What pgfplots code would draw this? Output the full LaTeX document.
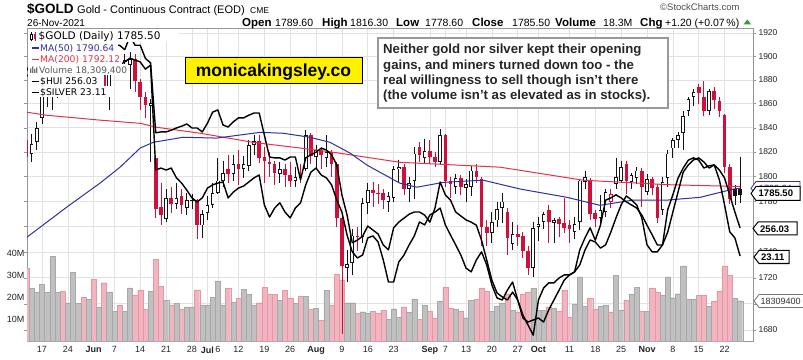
\documentclass[border=0pt]{standalone}
\usepackage{pgfplots}
\pgfplotsset{compat=1.18}
\usepackage{pgfplotstable}
\usepackage{fontspec}
\setmainfont{Liberation Sans}
\newfontfamily\dv{DejaVu Sans}
\definecolor{cred}{RGB}{208,16,58}
\definecolor{cblk}{RGB}{20,20,20}
\definecolor{vpink}{RGB}{242,180,190}
\definecolor{vpinkd}{RGB}{228,152,165}
\definecolor{vgray}{RGB}{192,192,192}
\definecolor{vgrayd}{RGB}{168,168,168}
\definecolor{cmaf}{RGB}{48,48,160}
\definecolor{cmat}{RGB}{228,50,72}
\definecolor{gridc}{RGB}{226,226,226}
\definecolor{framec}{RGB}{150,150,150}
\definecolor{txt}{RGB}{35,35,35}
\definecolor{upg}{RGB}{40,160,60}

\pgfplotstableread{
x o h l c v r
-1 1830 1836 1812 1816 33.3 1
0 1819 1835 1812 1827 24.2 0
1 1828 1845 1822 1840 22.0 0
2 1848 1870 1843 1867 25.8 0
3 1866 1873 1857 1869 22.0 0
4 1869 1891 1855 1871 38.6 0
5 1870 1882 1865 1877 22.0 0
6 1878 1890 1871 1876 22.7 1
7 1877 1886 1873 1882 17.4 0
8 1882 1902 1878 1898 31.1 0
9 1898 1913 1892 1900 17.1 0
10 1900 1905 1884 1896 20.0 1
11 1896 1908 1890 1904 18.9 0
12 1905 1918 1897 1902 28.0 1
13 1903 1916 1898 1908 15.5 0
14 1908 1911 1866 1872 26.5 1
15 1871 1896 1855 1892 22.3 0
16 1891 1904 1884 1899 13.6 0
17 1899 1903 1886 1895 16.4 1
18 1895 1902 1887 1897 13.6 0
19 1893 1904 1872 1898 24.2 0
20 1898 1902 1870 1879 20.9 1
21 1878 1881 1855 1866 23.2 1
22 1866 1870 1848 1859 14.4 1
23 1858 1864 1812 1861 22.7 0
24 1815 1818 1767 1774 37.1 1
25 1776 1795 1761 1769 25.0 1
26 1766 1790 1764 1783 18.5 0
27 1783 1792 1771 1778 16.2 1
28 1778 1795 1774 1783 17.1 0
29 1784 1790 1770 1777 14.4 1
30 1775 1787 1769 1781 15.5 0
31 1781 1786 1774 1781.5 15.5 0
32 1781 1782 1750 1761 23.2 1
33 1761 1773 1751 1770 16.4 0
34 1771 1784 1765 1777 16.4 0
35 1777 1795 1775 1787 20.0 0
36 1787 1815 1786 1797 27.0 0
37 1797 1813 1792 1803 16.4 0
38 1806 1818 1795 1802 23.9 1
39 1802 1818 1797 1810 17.8 0
40 1810 1822 1793 1806 19.4 1
41 1806 1817 1799 1810 23.5 0
42 1809 1830 1805 1826 21.2 0
43 1826 1834 1818 1829 16.4 0
44 1829 1834 1811 1815 17.4 1
45 1816 1824 1795 1813 24.5 1
46 1812 1820 1800 1810 21.2 1
47 1810 1813 1793 1803 21.2 1
48 1802 1812 1795 1806 18.5 0
49 1806 1810 1792 1801 23.0 1
50 1801 1812 1792 1797 19.4 1
51 1797 1808 1792 1800 17.0 0
52 1800 1810 1795 1799 20.2 1
53 1806 1838 1805 1834 20.2 0
54 1834 1836 1810 1817 14.4 1
55 1816 1826 1806 1822 15.0 0
56 1822 1824 1806 1818 9.4 1
57 1815 1834 1808 1820 23.0 0
58 1820 1822 1800 1810 16.1 1
59 1810 1812 1760 1767 30.3 1
60 1767 1768 1677 1729 27.6 1
61 1728 1742 1717 1731 17.4 0
62 1732 1758 1722 1753 17.4 0
63 1753 1760 1741 1752 12.7 1
64 1752 1783 1747 1779 13.3 0
65 1779 1795 1770 1789 12.7 0
66 1789 1796 1776 1787 13.5 1
67 1787 1794 1778 1786 12.7 1
68 1787 1790 1774 1781 14.0 1
69 1780 1788 1772 1784 9.8 0
70 1783 1809 1780 1806 14.7 0
71 1806 1814 1796 1808 10.9 0
72 1808 1810 1785 1790 15.5 1
73 1790 1800 1780 1795 13.0 0
74 1797 1824 1782 1819 19.2 0
75 1824 1828 1812 1818 9.8 1
76 1815 1831 1810 1821 16.4 0
77 1821 1830 1810 1816 13.6 1
78 1816 1820 1808 1812 10.2 1
79 1812 1839 1810 1834 17.9 0
80 1834 1835 1792 1797 24.5 1
81 1797 1800 1783 1794 14.8 1
82 1792 1802 1786 1799 14.4 0
83 1799 1801 1785 1792 13.6 1
84 1791 1798 1780 1794 10.6 0
85 1792 1809 1784 1805 18.6 0
86 1805 1810 1795 1800 19.0 1
87 1798 1800 1745 1760 24.2 1
88 1760 1765 1745 1755 22.7 1
89 1755 1772 1747 1764 13.6 0
90 1765 1780 1760 1774 15.9 0
91 1775 1787 1763 1780 17.0 0
92 1772 1775 1738 1751 21.5 1
93 1746 1764 1742 1754 14.0 0
94 1754 1761 1745 1752 13.2 1
95 1753 1756 1735 1741 21.2 1
96 1741 1745 1722 1728 22.0 1
97 1728 1764 1721 1759 23.9 0
98 1760 1768 1749 1762 14.0 0
99 1764 1772 1758 1770 14.0 0
100 1773 1777 1747 1764 15.6 1
101 1763 1767 1747 1765 14.8 0
102 1766 1768 1752 1762 13.6 1
103 1763 1783 1755 1759 23.0 1
104 1761 1765 1747 1758 10.9 1
105 1756 1768 1750 1762 16.7 0
106 1764 1798 1757 1797 29.1 0
107 1796 1805 1790 1800 15.9 0
108 1797 1799 1765 1770 19.4 1
109 1771 1773 1760 1766 14.4 1
110 1767 1785 1762 1773 15.9 0
111 1772 1790 1768 1788 16.4 0
112 1780 1790 1775 1786 13.2 1
113 1794 1815 1790 1800 30.0 0
114 1797 1813 1795 1808 14.0 0
115 1810 1813 1786 1797 18.5 1
116 1796 1803 1790 1801 21.2 0
117 1799 1808 1794 1805 24.5 0
118 1805 1807 1776 1792 13.6 1
119 1788 1802 1785 1798 13.6 0
120 1798 1800 1785 1791 24.2 1
121 1792 1794 1763 1767 22.0 1
122 1773 1800 1769 1796 20.8 0
123 1799 1822 1792 1819 29.1 0
124 1823 1832 1815 1830 19.7 0
125 1830 1837 1823 1834 21.5 0
126 1836 1854 1822 1850 34.1 0
127 1854 1866 1850 1864 19.0 0
128 1866 1872 1858 1870 19.0 0
129 1874 1877 1860 1869 20.8 1
130 1866 1879 1850 1854 20.8 1
131 1854 1872 1851 1871 15.9 0
132 1871 1874 1856 1863 18.2 1
133 1862 1866 1849 1854 22.7 1
134 1851 1852 1803 1808 34.1 1
135 1808 1810 1778 1782 30.0 1
136 1790 1793 1777 1784.3 19.4 0
137 1789.6 1816.3 1778.6 1785.5 18.3 0
}\gold

\pgfplotstableread{
x y
-0.9 1853.0
3 1850.5
13.2 1846.4
21 1843.8
24.2 1840.5
32.6 1835.6
42.8 1828.2
51.9 1823.3
58.3 1820.0
71.2 1811.8
90.6 1807.8
106.6 1797.2
122.9 1793.5
130 1792.8
137 1792.12
}\matwo

\pgfplotstableread{
x y
-0.9 1751.7
6.8 1775.6
13.2 1794.8
17.1 1807.8
21 1823.3
23.5 1828.2
29.3 1832.3
35.8 1831.5
44.2 1836.4
48.6 1835.6
53.8 1832.3
57.7 1828.2
61.6 1819.2
64.9 1809.4
71.2 1794.8
74.5 1791.6
79.6 1795.6
87.3 1797.2
94.5 1790.0
103.5 1783.5
109.9 1777.1
116.3 1781.1
122.9 1781.1
129.3 1783.5
135.7 1790.0
137 1790.64
}\mafif

\pgfplotstableread{
x y
-1 308.8
0 307.8
1 309.8
2 313.3
3 314.6
4 313.9
5 313.3
6 312.2
7 313.9
8 315.7
9 314.6
10 315.7
11 315.0
12 315.7
13 316.7
14 313.3
15 314.6
16 313.9
17 312.2
18 313.3
19 314.6
20 313.9
21 313.3
22 310.8
23 312.2
24 276.0
25 276.7
26 276.0
27 276.7
28 273.3
29 271.5
30 269.1
31 266.4
32 265.0
33 266.4
34 269.8
35 270.9
36 271.5
37 271.9
38 266.4
39 268.4
40 269.8
41 270.5
42 271.9
43 273.3
44 274.3
45 264.0
46 259.8
47 262.9
48 264.7
49 261.5
50 259.5
51 262.9
52 264.7
53 270.9
54 275.3
55 276.7
56 274.3
57 273.3
58 270.9
59 265.7
60 261.5
61 253.6
62 247.8
63 245.7
64 246.7
65 252.6
66 253.3
67 251.2
68 245.0
69 237.4
70 237.4
71 244.3
72 246.7
73 250.2
74 253.3
75 258.1
76 257.1
77 260.5
78 261.5
79 262.9
80 257.1
81 253.6
82 250.2
83 246.7
84 242.2
85 240.9
86 245.0
87 247.8
88 243.3
89 236.4
90 231.9
91 231.2
92 234.6
93 237.4
94 231.2
95 225.0
96 223.6
97 224.3
98 225.0
99 223.6
100 227.8
101 231.2
102 234.6
103 238.1
104 239.8
105 240.9
106 243.3
107 248.4
108 251.9
109 251.2
110 249.1
111 250.2
112 254.6
113 259.5
114 264.0
115 267.1
116 265.7
117 264.0
118 259.5
119 250.2
120 247.8
121 247.8
122 250.2
123 254.6
124 261.5
125 268.4
126 275.3
127 277.8
128 279.5
129 280.2
130 278.8
131 276.7
132 277.8
133 276.0
134 273.3
135 267.4
136 261.5
137 256.03
}\hui

\pgfplotstableread{
x y
-1 27.4
0 27.2
1 27.4
2 28.1
3 28.2
4 27.9
5 27.8
6 27.5
7 27.9
8 28.0
9 27.6
10 27.9
11 27.8
12 28.0
13 28.0
14 27.4
15 27.8
16 27.9
17 27.9
18 27.8
19 28.1
20 27.9
21 27.9
22 27.6
23 27.5
24 25.91
25 25.93
26 25.93
27 25.97
28 26.02
29 26.06
30 26.11
31 26.02
32 26.02
33 25.93
34 26.13
35 26.38
36 26.43
37 26.09
38 26.04
39 26.16
40 26.25
41 26.25
42 26.31
43 26.36
44 26.36
45 25.86
46 25.36
47 25.34
48 25.34
49 25.29
50 25.36
51 25.36
52 24.84
53 25.34
54 25.41
55 25.47
56 25.56
57 25.52
58 25.41
59 25.18
60 24.50
61 24.04
62 23.41
63 23.47
64 23.56
65 23.79
66 23.70
67 23.61
68 23.36
69 23.25
70 23.75
71 23.88
72 23.97
73 24.06
74 24.11
75 24.11
76 24.04
77 23.88
78 24.20
79 24.79
80 24.50
81 24.38
82 24.11
83 24.02
84 23.93
85 23.88
86 23.81
87 23.47
88 23.02
89 22.56
90 22.27
91 22.18
92 22.11
93 22.29
94 22.11
95 21.77
96 21.54
97 21.31
98 22.11
99 22.38
100 22.50
101 22.50
102 22.61
103 22.68
104 22.68
105 22.75
106 23.25
107 23.52
108 23.75
109 23.47
110 23.81
111 24.38
112 24.43
113 24.50
114 24.43
115 24.34
116 24.27
117 24.20
118 24.04
119 23.81
120 23.59
121 23.36
122 23.36
123 24.16
124 24.50
125 24.88
126 25.11
127 25.29
128 25.34
129 25.29
130 25.11
131 25.16
132 25.18
133 24.84
134 24.27
135 23.66
136 23.52
137 23.11
}\silver

\begin{document}
\begin{tikzpicture}
\useasboundingbox (0,0) rectangle (803pt,359pt);

% price axis uses a logarithmic scale: coordinates are ln(price)
% ---------- axis 1: frame, grid, tick labels ----------
\begin{axis}[scale only axis, width=726pt, height=313pt,
  at={(27pt,18pt)}, anchor=south west, xmin=-0.9, xmax=139.5,
  ymin=7.421596, ymax=7.562317,
  axis line style={draw=framec, line width=0.6pt},
  grid=major, grid style={draw=gridc, line width=0.6pt},
  xtick={2,7,12,16,21,26,31,34,36,40,45,50,55,60,65,70,77,80,84,89,94,98,104,109,114,119,124,129,134},
  xticklabels={17,24,\textbf{Jun},7,14,21,28,\textbf{Jul},6,12,19,26,\textbf{Aug},9,16,23,\textbf{Sep},7,13,20,27,\textbf{Oct},11,18,25,\textbf{Nov},8,15,22},
  ytick={7.426549,7.438384,7.450080,7.461640,7.473069,7.484369,7.495542,7.506592,7.517521,7.528332,7.539027,7.549609,7.560080},
  yticklabels={1680,1700,1720,1740,{},1780,1800,1820,1840,1860,1880,1900,1920},
  yticklabel pos=right,
  xtick style={draw=none},
  ytick style={draw=framec},
  tick align=outside, major tick length=3pt,
  xticklabel style={font=\fontsize{9}{10}\selectfont, text=txt, yshift=1pt},
  yticklabel style={font=\fontsize{8.5}{10}\selectfont, text=txt, xshift=-1pt}]
\end{axis}

% ---------- axis 2: volume ----------
\begin{axis}[scale only axis, width=726pt, height=313pt,
  at={(27pt,18pt)}, anchor=south west, xmin=-0.9, xmax=139.5,
  ymin=0, ymax=142.3,
  axis line style={draw=none},
  xtick=\empty,
  ytick={10,20,30,40}, yticklabels={10M,20M,30M,40M},
  yticklabel pos=left, ytick style={draw=none},
  yticklabel style={font=\fontsize{9}{10}\selectfont, text=txt, xshift=1pt},
  clip=true]
\addplot[ybar, bar width=5.17pt, bar shift=0pt, fill=vpink, draw=vpinkd, line width=0.3pt]
  table[x=x, y expr={\thisrow{r}>0.5 ? \thisrow{v} : nan}] {\gold};
\addplot[ybar, bar width=5.17pt, bar shift=0pt, fill=vgray, draw=vgrayd, line width=0.3pt]
  table[x=x, y expr={\thisrow{r}<0.5 ? \thisrow{v} : nan}] {\gold};
\end{axis}

% ---------- axis 3: candles + moving averages ----------
\begin{axis}[scale only axis, width=726pt, height=313pt,
  at={(27pt,18pt)}, anchor=south west, xmin=-0.9, xmax=139.5,
  ymin=7.421596, ymax=7.562317, hide axis, clip=true]
% wicks
\addplot[draw=none, error bars/.cd, y dir=minus, y explicit, error mark=none,
  error bar style={draw=cred, line width=0.8pt}]
  table[x=x, y expr={\thisrow{r}>0.5 ? ln(\thisrow{h}) : nan},
        y error minus expr={ln(\thisrow{h})-ln(\thisrow{l})}] {\gold};
\addplot[draw=none, error bars/.cd, y dir=minus, y explicit, error mark=none,
  error bar style={draw=cblk, line width=0.8pt}]
  table[x=x, y expr={\thisrow{r}<0.5 ? ln(\thisrow{h}) : nan},
        y error minus expr={ln(\thisrow{h})-ln(\thisrow{l})}] {\gold};
% bodies
\addplot[draw=none, error bars/.cd, y dir=minus, y explicit, error mark=none,
  error bar style={draw=cred, line width=3.6pt}]
  table[x=x, y expr={\thisrow{r}>0.5 ? ln(max(\thisrow{o},\thisrow{c})) : nan},
        y error minus expr={max(abs(ln(\thisrow{o})-ln(\thisrow{c})),0.0005)}] {\gold};
\addplot[draw=none, error bars/.cd, y dir=minus, y explicit, error mark=none,
  error bar style={draw=cblk, line width=3.6pt}]
  table[x=x, y expr={\thisrow{r}<0.5 ? ln(max(\thisrow{o},\thisrow{c})) : nan},
        y error minus expr={max(abs(ln(\thisrow{o})-ln(\thisrow{c})),0.0005)}] {\gold};
% hollow interiors (close above open)
\addplot[draw=none, error bars/.cd, y dir=minus, y explicit, error mark=none,
  error bar style={draw=white, line width=2.0pt}]
  table[x=x, y expr={\thisrow{c}-\thisrow{o}>1.6 ? ln(\thisrow{c})-0.0004 : nan},
        y error minus expr={ln(\thisrow{c})-ln(\thisrow{o})-0.0008}] {\gold};
% moving averages
\addplot[cmat, line width=1pt] table[x=x, y expr={ln(\thisrow{y})}] {\matwo};
\addplot[cmaf, line width=1pt] table[x=x, y expr={ln(\thisrow{y})}] {\mafif};
\end{axis}

% ---------- axis 4: $HUI ----------
\begin{axis}[scale only axis, width=726pt, height=313pt,
  at={(27pt,18pt)}, anchor=south west, xmin=-0.9, xmax=139.5,
  hide axis, ymin=217.06, ymax=324.99, clip=true]
\addplot[black, line width=1.4pt, line join=round] table[x=x, y=y] {\hui};
\end{axis}

% ---------- axis 5: $SILVER ----------
\begin{axis}[scale only axis, width=726pt, height=313pt,
  at={(27pt,18pt)}, anchor=south west, xmin=-0.9, xmax=139.5,
  hide axis, ymin=21.178, ymax=28.292, clip=true]
\addplot[black, line width=1.4pt, line join=round] table[x=x, y=y] {\silver};
\end{axis}

% ---------- overlays in pixel coordinates ----------
\begin{scope}[x=1pt, y=-1pt, yshift=359pt]
% header
\node[anchor=base west, inner sep=0, font=\fontsize{13.5}{14}\selectfont\bfseries] at (27,13.5) {\$GOLD};
\node[anchor=base west, inner sep=0, font=\fontsize{11}{12}\selectfont] at (77,13.5) {Gold - Continuous Contract (EOD)};
\node[anchor=base west, inner sep=0, font=\fontsize{8.5}{10}\selectfont] at (250,13.5) {CME};
\node[anchor=base west, inner sep=0, font=\fontsize{10}{11}\selectfont] at (27,26.5) {26-Nov-2021};
\node[anchor=base west, inner sep=0, font=\fontsize{9.5}{10}\selectfont, text=black!70] at (660,11) {\textcopyright StockCharts.com};
\begin{scope}[every node/.style={anchor=base west, inner sep=0}]
\node[font=\fontsize{11.5}{12}\selectfont\bfseries] at (242,26.5) {Open};
\node[font=\fontsize{10.5}{12}\selectfont] at (275,26.5) {1789.60};
\node[font=\fontsize{11.5}{12}\selectfont\bfseries] at (322,26.5) {High};
\node[font=\fontsize{10.5}{12}\selectfont] at (350,26.5) {1816.30};
\node[font=\fontsize{11.5}{12}\selectfont\bfseries] at (396,26.5) {Low};
\node[font=\fontsize{10.5}{12}\selectfont] at (425,26.5) {1778.60};
\node[font=\fontsize{11.5}{12}\selectfont\bfseries] at (472,26.5) {Close};
\node[font=\fontsize{10.5}{12}\selectfont] at (512,26.5) {1785.50};
\node[font=\fontsize{11.5}{12}\selectfont\bfseries] at (555,26.5) {Volume};
\node[font=\fontsize{10.5}{12}\selectfont] at (603,26.5) {18.3M};
\node[font=\fontsize{11.5}{12}\selectfont\bfseries] at (640,26.5) {Chg};
\node[font=\fontsize{10.5}{12}\selectfont] at (665,26.5) {+1.20 (+0.07\,\%)};
\end{scope}
\fill[upg] (743.5,24.5) -- (751,24.5) -- (747.25,19.5) -- cycle;

% legend
\fill[white] (28,29) rectangle (179,42.5);
\fill[white] (28,42.5) rectangle (118,53.5);
\fill[white] (28,53.5) rectangle (122,64.5);
\fill[white] (28,64.5) rectangle (128,75.5);
\fill[white] (28,75.5) rectangle (104,86.5);
\fill[white] (28,86.5) rectangle (111,97.5);
\draw[black, line width=0.6pt] (31,32) -- (31,41);
\filldraw[fill=white, draw=black, line width=0.5pt] (30,34) rectangle (32.2,39);
\draw[cred, line width=0.6pt] (35,32.5) -- (35,41);
\fill[cred] (34,34.5) rectangle (36.2,39.5);
\node[anchor=base west, inner sep=0, font=\dv\fontsize{10.5}{12}\selectfont] at (38.5,40) {\$GOLD (Daily) 1785.50};
\draw[cmaf, line width=1.8pt] (32,48) -- (38.5,48);
\node[anchor=base west, inner sep=0, font=\dv\fontsize{9.2}{11}\selectfont, text=cmaf] at (40,51.5) {MA(50) 1790.64};
\draw[cmat, line width=1.8pt] (32,59.5) -- (38.5,59.5);
\node[anchor=base west, inner sep=0, font=\dv\fontsize{9.2}{11}\selectfont, text=cmat] at (40,63) {MA(200) 1792.12};
\fill[black!55] (30,73) rectangle (31.4,68.5) (32,73) rectangle (33.4,66.5) (34,73) rectangle (35.4,69) (36,73) rectangle (37.4,67.5);
\node[anchor=base west, inner sep=0, font=\dv\fontsize{9}{11}\selectfont, text=black!65] at (39,74) {Volume 18,309,400};
\draw[black, line width=1.8pt] (32,81.5) -- (38.5,81.5);
\node[anchor=base west, inner sep=0, font=\dv\fontsize{9.2}{11}\selectfont] at (40,85) {\$HUI 256.03};
\draw[black, line width=1.8pt] (32,92.5) -- (38.5,92.5);
\node[anchor=base west, inner sep=0, font=\dv\fontsize{9.2}{11}\selectfont] at (40,96) {\$SILVER 23.11};

% logo
\filldraw[fill=yellow, draw=black, line width=1pt] (185,58) rectangle (362,83.5);
\node[anchor=base, inner sep=0, font=\fontsize{17.5}{18}\selectfont\bfseries] at (273.5,76.5) {monicakingsley.co};

% annotation
\filldraw[fill=white, draw=black!40, line width=1.5pt] (378,38) rectangle (668,108);
\begin{scope}[every node/.style={anchor=base west, inner sep=0, font=\fontsize{13.2}{15}\selectfont\bfseries, text=black!85}]
\node at (383,54) {Neither gold nor silver kept their opening};
\node at (383,69.2) {gains, and miners turned down too - the};
\node at (383,84.4) {real willingness to sell though isn't there};
\node at (383,99.6) {(the volume isn't as elevated as in stocks).};
\end{scope}

% right-hand value tags
\filldraw[fill=white, draw=cmaf, line width=0.8pt] (751,188.3) -- (756,181.5) -- (800,181.5) -- (800,195) -- (756,195) -- cycle;
\node[anchor=base west, inner sep=0, font=\fontsize{9}{10}\selectfont, text=cmaf] at (759,191.5) {1790.64};
\filldraw[fill=white, draw=black, line width=1pt] (751,193.5) -- (756,186.5) -- (800,186.5) -- (800,200.5) -- (756,200.5) -- cycle;
\node[anchor=base west, inner sep=0, font=\fontsize{9.5}{10}\selectfont\bfseries] at (758.5,197) {1785.50};
\filldraw[fill=white, draw=black, line width=1pt] (753,228.5) -- (758,222) -- (797,222) -- (797,235) -- (758,235) -- cycle;
\node[anchor=base west, inner sep=0, font=\fontsize{9.5}{10}\selectfont\bfseries] at (760,232.3) {256.03};
\filldraw[fill=white, draw=black, line width=1pt] (754,257) -- (759,250.5) -- (789,250.5) -- (789,263.5) -- (759,263.5) -- cycle;
\node[anchor=base west, inner sep=0, font=\fontsize{9.5}{10}\selectfont\bfseries] at (761,260.8) {23.11};
\filldraw[fill=white, draw=black!55, line width=0.8pt] (754,301) -- (759,294.5) -- (812,294.5) -- (812,307.5) -- (759,307.5) -- cycle;
\node[anchor=base west, inner sep=0, font=\fontsize{9}{10}\selectfont, text=black!80] at (760.5,304.5) {18309400};
\end{scope}
\end{tikzpicture}
\end{document}
